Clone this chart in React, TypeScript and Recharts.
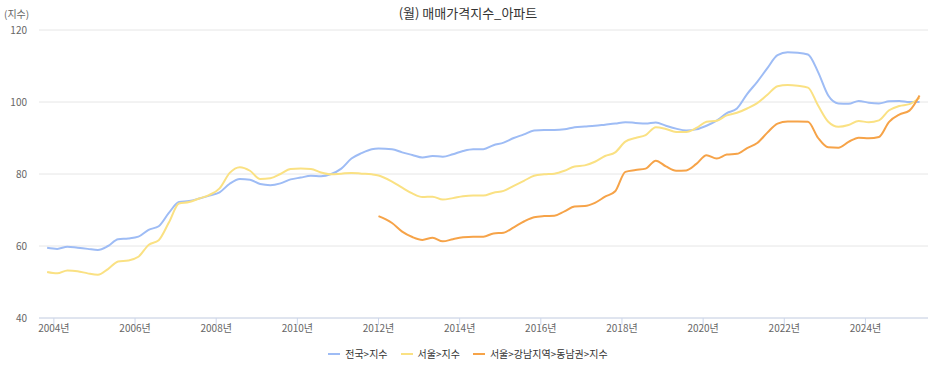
import { LineChart, Line, XAxis, YAxis, CartesianGrid, Legend } from "recharts";

// 월별 (분기 간격으로 읽음)
const months = [
  "2003-11", "2004-02", "2004-05", "2004-08", "2004-11", "2005-02", "2005-05", "2005-08", "2005-11",
  "2006-02", "2006-05", "2006-08", "2006-11", "2007-02", "2007-05", "2007-08", "2007-11",
  "2008-02", "2008-05", "2008-08", "2008-11", "2009-02", "2009-05", "2009-08", "2009-11",
  "2010-02", "2010-05", "2010-08", "2010-11", "2011-02", "2011-05", "2011-08", "2011-11",
  "2012-01", "2012-05", "2012-08", "2012-11", "2013-02", "2013-05", "2013-08", "2013-11",
  "2014-02", "2014-05", "2014-08", "2014-11", "2015-02", "2015-05", "2015-08", "2015-11",
  "2016-02", "2016-05", "2016-08", "2016-11", "2017-02", "2017-05", "2017-08", "2017-11",
  "2018-02", "2018-05", "2018-08", "2018-11", "2019-02", "2019-05", "2019-08", "2019-11",
  "2020-02", "2020-05", "2020-08", "2020-11", "2021-02", "2021-05", "2021-08", "2021-11",
  "2022-02", "2022-05", "2022-08", "2022-11", "2023-02", "2023-05", "2023-08", "2023-11",
  "2024-02", "2024-05", "2024-08", "2024-11", "2025-02", "2025-05",
];

// 전국>지수
const national = [
  59.5, 59.2, 59.8, 59.5, 59.2, 58.9, 60.0, 61.9, 62.1,
  62.6, 64.5, 65.5, 69.2, 72.2, 72.5, 73.2, 74.0,
  74.9, 77.3, 78.6, 78.4, 77.2, 76.9, 77.4, 78.5,
  79.0, 79.5, 79.4, 80.0, 81.5, 84.3, 85.8, 86.9,
  87.1, 86.9, 86.0, 85.3, 84.6, 85.0, 84.8, 85.5,
  86.4, 86.9, 86.9, 88.0, 88.7, 90.0, 91.0, 92.1,
  92.2, 92.2, 92.4, 93.0, 93.2, 93.4, 93.7, 94.0,
  94.4, 94.2, 94.0, 94.3, 93.4, 92.6, 92.1, 92.4,
  93.4, 94.8, 96.9, 98.2, 102.2, 105.6, 109.4, 113.0,
  113.8, 113.7, 113.2, 108.3, 101.8, 99.6, 99.5, 100.3,
  99.8, 99.6, 100.2, 100.3, 100.0, 100.0,
];

// 서울>지수
const seoul = [
  52.8, 52.4, 53.2, 53.0, 52.4, 52.0, 53.6, 55.7, 56.0,
  57.0, 60.3, 61.6, 66.5, 71.8, 72.2, 73.2, 74.2,
  76.0, 80.3, 81.9, 80.9, 78.6, 78.8, 80.0, 81.4,
  81.5, 81.4, 80.4, 79.9, 80.1, 80.3, 80.1, 79.9,
  79.6, 77.9, 76.2, 74.6, 73.6, 73.7, 72.9, 73.3,
  73.8, 74.0, 74.0, 74.8, 75.3, 76.7, 78.1, 79.5,
  79.9, 80.1, 80.9, 82.1, 82.4, 83.4, 85.0, 86.0,
  89.0, 90.0, 90.8, 93.0, 92.5, 91.7, 91.7, 92.8,
  94.5, 94.8, 96.3, 97.0, 98.2, 99.7, 102.0, 104.4,
  104.7, 104.5, 104.0, 99.0, 94.5, 93.1, 93.6, 94.7,
  94.4, 94.9, 97.7, 98.9, 99.4, 101.2,
];

// 서울>강남지역>동남권>지수 (2012-01부터)
const gangnamStart = "2012-01";
const gangnam = [
  68.3, 66.4, 64.0, 62.5, 61.7, 62.3, 61.3, 61.9,
  62.4, 62.6, 62.6, 63.5, 63.7, 65.2, 66.8, 68.0,
  68.3, 68.4, 69.6, 71.0, 71.1, 72.0, 73.7, 75.2,
  80.6, 81.1, 81.5, 83.7, 82.1, 80.9, 81.0, 82.8,
  85.2, 84.3, 85.4, 85.6, 87.2, 88.6, 91.5, 94.0,
  94.6, 94.6, 94.5, 90.0, 87.4, 87.3, 88.9, 90.1,
  89.9, 90.3, 94.5, 96.5, 97.6, 101.8,
];

const yearTicks = [2004, 2006, 2008, 2010, 2012, 2014, 2016, 2018, 2020, 2022, 2024];
const valueTicks = [40, 60, 80, 100, 120];

const series = [
  { key: "national", name: "전국>지수", color: "#9ebcf5" },
  { key: "seoul", name: "서울>지수", color: "#fae183" },
  { key: "gangnam", name: "서울>강남지역>동남권>지수", color: "#f6a348" },
];

const toIndex = (m: string) => {
  const [y, mo] = m.split("-").map(Number);
  return (y - 2004) * 12 + (mo - 1);
};

const gOffset = months.indexOf(gangnamStart);
const data = months.map((m, i) => ({
  t: toIndex(m),
  national: national[i],
  seoul: seoul[i],
  gangnam: i >= gOffset ? gangnam[i - gOffset] : null,
}));

const FONT = "'Noto Sans CJK KR', sans-serif";

function LegendRow() {
  return (
    <div
      style={{
        display: "flex",
        justifyContent: "center",
        gap: 13,
        height: 20,
        lineHeight: "20px",
        fontSize: 10,
        color: "#333",
        fontFamily: FONT,
        paddingLeft: 8,
      }}
    >
      {series.map((s) => (
        <div key={s.key} style={{ display: "flex", alignItems: "center" }}>
          <span style={{ display: "inline-block", width: 12, height: 2, background: s.color, marginRight: 5 }} />
          <span>{s.name}</span>
        </div>
      ))}
    </div>
  );
}

export default function App() {
  return (
    <div style={{ position: "absolute", left: 0, top: 0, width: 936, height: 377, background: "#fff", fontFamily: FONT }}>
      <div
        style={{
          position: "absolute",
          left: 0,
          width: 936,
          top: 3,
          textAlign: "center",
          fontSize: 13,
          color: "#333",
        }}
      >
        (월) 매매가격지수_아파트
      </div>
      <div style={{ position: "absolute", left: 4, top: 6, fontSize: 10, color: "#666" }}>(지수)</div>
      <LineChart width={936} height={377} data={data} margin={{ top: 30, right: 8, left: 0, bottom: 13 }}>
        <CartesianGrid vertical={false} stroke="#e6e6e6" />
        <XAxis
          dataKey="t"
          type="number"
          domain={[-4.4, 258.5]}
          allowDataOverflow
          ticks={yearTicks.map((y) => (y - 2004) * 12)}
          tickFormatter={(v) => `${2004 + Number(v) / 12}년`}
          interval={0}
          height={26}
          tickSize={7}
          tickMargin={0}
          axisLine={{ stroke: "#ccd6eb" }}
          tickLine={{ stroke: "#ccd6eb" }}
          tick={{ fontSize: 10, fill: "#666", fontFamily: FONT }}
        />
        <YAxis
          domain={[40, 120]}
          ticks={valueTicks}
          width={39}
          axisLine={false}
          tickLine={false}
          tickMargin={6}
          tick={{ fontSize: 10, fill: "#666", fontFamily: FONT }}
        />
        <Legend verticalAlign="bottom" height={20} content={() => <LegendRow />} />
        {series.map((s) => (
          <Line
            key={s.key}
            type="monotone"
            dataKey={s.key}
            name={s.name}
            stroke={s.color}
            strokeWidth={2}
            dot={false}
            activeDot={false}
            isAnimationActive={false}
          />
        ))}
      </LineChart>
    </div>
  );
}
